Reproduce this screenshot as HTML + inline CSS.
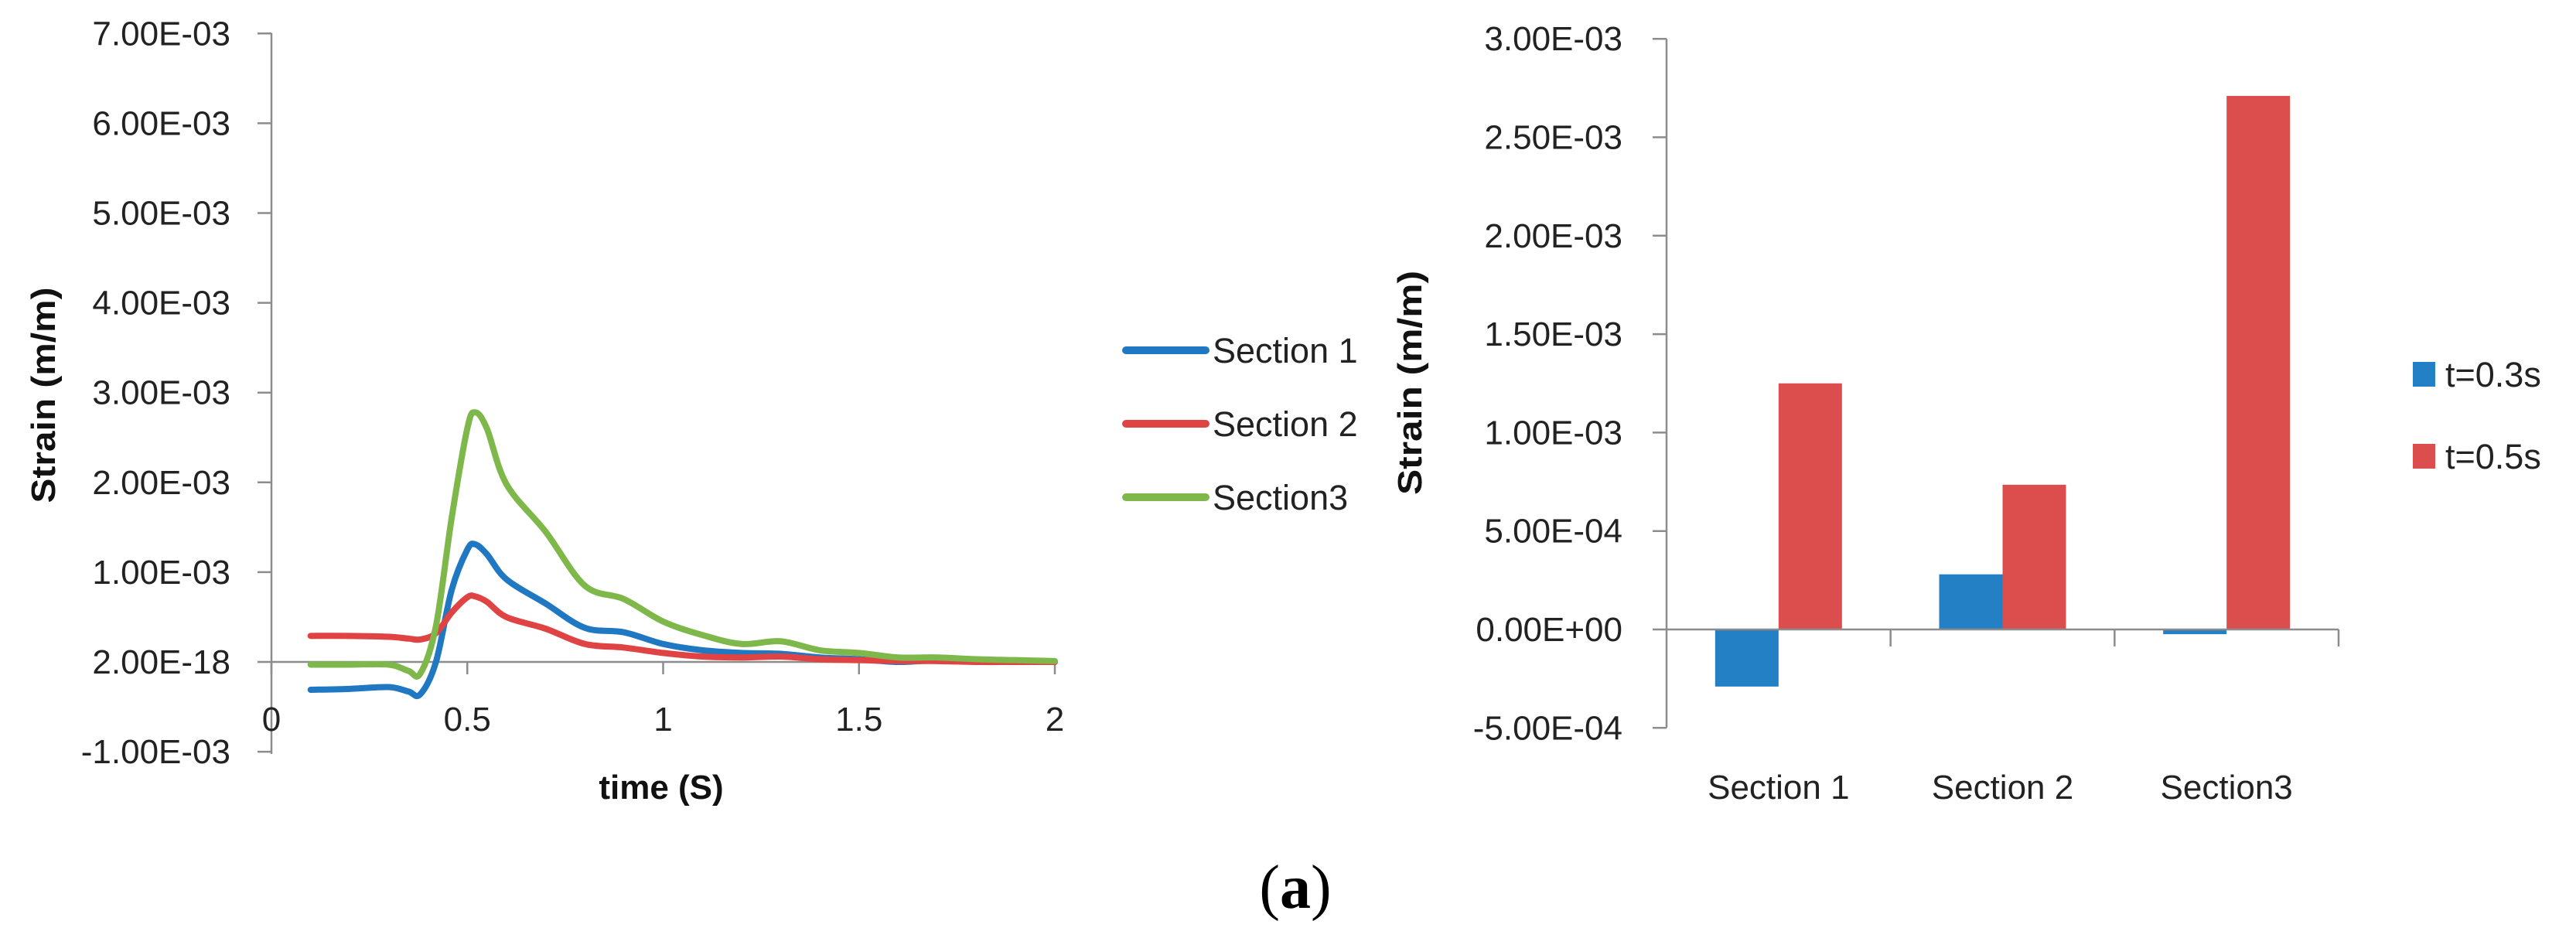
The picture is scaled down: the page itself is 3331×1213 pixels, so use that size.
<!DOCTYPE html>
<html><head><meta charset="utf-8"><style>
html,body{margin:0;padding:0;background:#fff;}
svg{display:block;font-family:"Liberation Sans",sans-serif;}
</style></head><body>
<svg id="chart" width="3331" height="1213" viewBox="0 0 3331 1213" xmlns="http://www.w3.org/2000/svg">
<g id="left"></g>
<g id="right"></g>
<text x="1675" y="1174" text-anchor="middle" font-family="Liberation Serif, serif" font-size="80">(<tspan font-weight="bold">a</tspan>)</text>
</svg>
<script>
// ---- line chart data ----
const times = [0.1,0.2,0.3,0.35,0.38,0.42,0.46,0.5,0.52,0.55,0.6,0.7,0.8,0.9,1.0,1.1,1.2,1.3,1.4,1.5,1.6,1.7,1.8,1.9,2.0];
const section1 = [-0.31,-0.3,-0.28,-0.33,-0.36,0.0,0.8,1.25,1.31,1.2,0.92,0.65,0.38,0.33,0.2,0.13,0.1,0.09,0.05,0.03,0.0,0.02,0.01,0.01,0.0];
const section2 = [0.29,0.29,0.28,0.26,0.25,0.32,0.55,0.72,0.73,0.67,0.5,0.37,0.2,0.16,0.1,0.06,0.05,0.06,0.03,0.02,0.01,0.01,0.0,0.0,0.0];
const section3 = [-0.03,-0.03,-0.03,-0.1,-0.13,0.4,1.6,2.6,2.78,2.6,1.98,1.45,0.85,0.7,0.45,0.3,0.2,0.23,0.13,0.1,0.05,0.05,0.03,0.02,0.01];
const lineYTicks = [-1,0,1,2,3,4,5,6,7];
const lineYTickLabels = ["-1.00E-03","2.00E-18","1.00E-03","2.00E-03","3.00E-03","4.00E-03","5.00E-03","6.00E-03","7.00E-03"];
const lineXTicks = [0,0.5,1,1.5,2];
const lineXTickLabels = ["0","0.5","1","1.5","2"];
const lineSeriesNames = ["Section 1","Section 2","Section3"];
// ---- bar chart data ----
const barCategories = ["Section 1","Section 2","Section3"];
const barT03 = [-0.29,0.28,-0.024];
const barT05 = [1.25,0.735,2.71];
const barSeriesNames = ["t=0.3s","t=0.5s"];
const barYTicks = [-0.5,0,0.5,1.0,1.5,2.0,2.5,3.0];
const barYTickLabels = ["-5.00E-04","0.00E+00","5.00E-04","1.00E-03","1.50E-03","2.00E-03","2.50E-03","3.00E-03"];

const NS="http://www.w3.org/2000/svg";
function mk(parent,tag,attrs,text){const e=document.createElementNS(NS,tag);for(const k in attrs)e.setAttribute(k,attrs[k]);if(text!==undefined)e.textContent=text;parent.appendChild(e);return e;}
const AX="#8c8c8c";

// Left chart scales
const L=document.getElementById('left');
const lx=t=>351+(t-0)*(1364-351)/2;
const ly=v=>856-v*116.1;
// y axis
let ya=mk(L,'line',{x1:351,y1:43,x2:351,y2:975,stroke:AX,'stroke-width':2.5});


lineYTicks.forEach((v,i)=>{
  let t=mk(L,'line',{x1:333,y1:ly(v),x2:351,y2:ly(v),stroke:AX,'stroke-width':2.5});
  
  
  let l=mk(L,'text',{x:298,y:ly(v)+15,'text-anchor':'end','font-size':44,fill:'#222'},lineYTickLabels[i]);
  
  
});
let xa=mk(L,'line',{x1:351,y1:ly(0),x2:1364,y2:ly(0),stroke:AX,'stroke-width':2.5});


lineXTicks.forEach((v,i)=>{
  let t=mk(L,'line',{x1:lx(v),y1:ly(0),x2:lx(v),y2:ly(0)+16,stroke:AX,'stroke-width':2.5});
  
  
  let l=mk(L,'text',{x:lx(v),y:945,'text-anchor':'middle','font-size':44,fill:'#222'},lineXTickLabels[i]);
  
  
});
let xt=mk(L,'text',{x:855,y:1033,'text-anchor':'middle','font-size':44,'font-weight':'bold',fill:'#111'},'time (S)');


let yt=mk(L,'text',{x:0,y:0,transform:'translate(71,511) rotate(-90)','text-anchor':'middle','font-size':44,'font-weight':'bold',fill:'#111',textLength:279,lengthAdjust:'spacingAndGlyphs'},'Strain (m/m)');



function smoothPath(pts){
  let d=`M${pts[0][0]},${pts[0][1]}`;
  for(let i=0;i<pts.length-1;i++){
    const p0=pts[i-1]||pts[i],p1=pts[i],p2=pts[i+1],p3=pts[i+2]||p2;
    const c1=[p1[0]+(p2[0]-p0[0])/6,p1[1]+(p2[1]-p0[1])/6];
    const c2=[p2[0]-(p3[0]-p1[0])/6,p2[1]-(p3[1]-p1[1])/6];
    d+=` C${c1[0]},${c1[1]} ${c2[0]},${c2[1]} ${p2[0]},${p2[1]}`;
  }
  return d;
}
const lineColors=["#1f78c1","#e04344","#7fb84a"];
[section1,section2,section3].forEach((s,k)=>{
  const pts=times.map((t,i)=>[lx(t),ly(s[i])]);
  let p=mk(L,'path',{d:smoothPath(pts),fill:'none',stroke:lineColors[k],'stroke-width':8,'stroke-linecap':'round','stroke-linejoin':'round'});
  
  
  const yy=453+k*95;
  let ll=mk(L,'line',{x1:1456,y1:yy,x2:1559,y2:yy,stroke:lineColors[k],'stroke-width':10,'stroke-linecap':'round'});
  
  
  let lt=mk(L,'text',{x:1568,y:yy+16,'font-size':45,fill:'#222'},lineSeriesNames[k]);
  
  
});

// Right chart
const R=document.getElementById('right');
const bx0=2155,bx1=3024,cw=(bx1-bx0)/barCategories.length;
const by=v=>814-v*254.6;
let rya=mk(R,'line',{x1:bx0,y1:by(3),x2:bx0,y2:by(-0.5),stroke:AX,'stroke-width':2.5});


barYTicks.forEach((v,i)=>{
  let t=mk(R,'line',{x1:2137,y1:by(v),x2:bx0,y2:by(v),stroke:AX,'stroke-width':2.5});
  
  
  let l=mk(R,'text',{x:2098,y:by(v)+15,'text-anchor':'end','font-size':44,fill:'#222'},barYTickLabels[i]);
  
  
});
const bw=82;
barCategories.forEach((c,i)=>{
  const gx=bx0+i*cw+(cw-2*bw)/2;
  [[barT03,'#2480c4'],[barT05,'#dc4e4e']].forEach(([arr,col],j)=>{
    const v=arr[i];
    const y=Math.min(by(v),by(0)),h=Math.abs(by(v)-by(0));
    let r=mk(R,'rect',{x:gx+j*bw,y:y,width:bw,height:Math.max(h,1),fill:col});
    
    
  });
  let l=mk(R,'text',{x:bx0+i*cw+cw/2,y:1033,'text-anchor':'middle','font-size':44,fill:'#222'},c);
  
  
});
let rxa=mk(R,'line',{x1:bx0,y1:by(0),x2:bx1,y2:by(0),stroke:AX,'stroke-width':2.5});


for(let i=1;i<=barCategories.length;i++){
  let t=mk(R,'line',{x1:bx0+i*cw,y1:by(0),x2:bx0+i*cw,y2:by(0)+22,stroke:AX,'stroke-width':2.5});
  
  
}
let ryt=mk(R,'text',{x:0,y:0,transform:'translate(1838,495) rotate(-90)','text-anchor':'middle','font-size':44,'font-weight':'bold',fill:'#111',textLength:290,lengthAdjust:'spacingAndGlyphs'},'Strain (m/m)');


['#2480c4','#dc4e4e'].forEach((col,k)=>{
  const cy=484+k*106;
  let s=mk(R,'rect',{x:3120,y:cy-16,width:29,height:32,fill:col});
  
  
  let t=mk(R,'text',{x:3162,y:cy+16,'font-size':45,fill:'#222'},barSeriesNames[k]);
  
  
});
</script>
</body></html>
